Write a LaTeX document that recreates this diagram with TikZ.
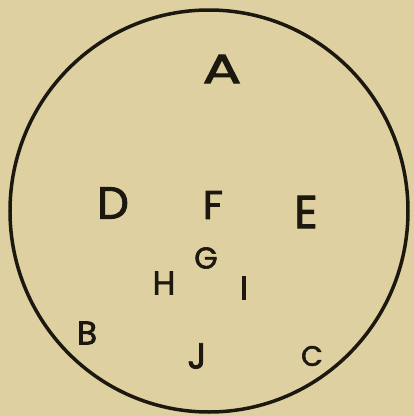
\documentclass[tikz,border=0pt]{standalone}
\usepackage{fontspec}
\setmainfont{Poppins}
\newfontfamily\lett{Poppins}[FakeBold=2]
\definecolor{paper}{RGB}{222,208,160}
\definecolor{ink}{RGB}{28,24,16}
\begin{document}
\begin{tikzpicture}[x=1pt,y=-1pt,
  lbl/.style={inner sep=0pt,text=ink,anchor=center,font=\lett},
  ring/.style={draw=ink,line width=3.5pt}]
\fill[paper] (0,0) rectangle (414,416);
\useasboundingbox (0,0) rectangle (414,416);
\draw[ring] (209,211) ellipse [x radius=199, y radius=201];
\node[lbl,xscale=1.4,transform shape] (A) at (222,69) {\fontsize{41}{41}\selectfont A};
\node[lbl] (D) at (113,203) {\fontsize{45}{45}\selectfont D};
\node[lbl] (F) at (213,205) {\fontsize{40}{40}\selectfont F};
\node[lbl] (E) at (306,212) {\fontsize{46}{46}\selectfont E};
\node[lbl] (G) at (206,258) {\fontsize{30}{30}\selectfont G};
\node[lbl] (H) at (164,283) {\fontsize{33}{33}\selectfont H};
\node[lbl] (I) at (244,288) {\fontsize{33}{33}\selectfont I};
\node[lbl] (B) at (87,333) {\fontsize{33}{33}\selectfont B};
\node[lbl] (J) at (197,356) {\fontsize{36}{36}\selectfont J};
\node[lbl] (C) at (312,356) {\fontsize{28}{28}\selectfont C};
\end{tikzpicture}
\end{document}
